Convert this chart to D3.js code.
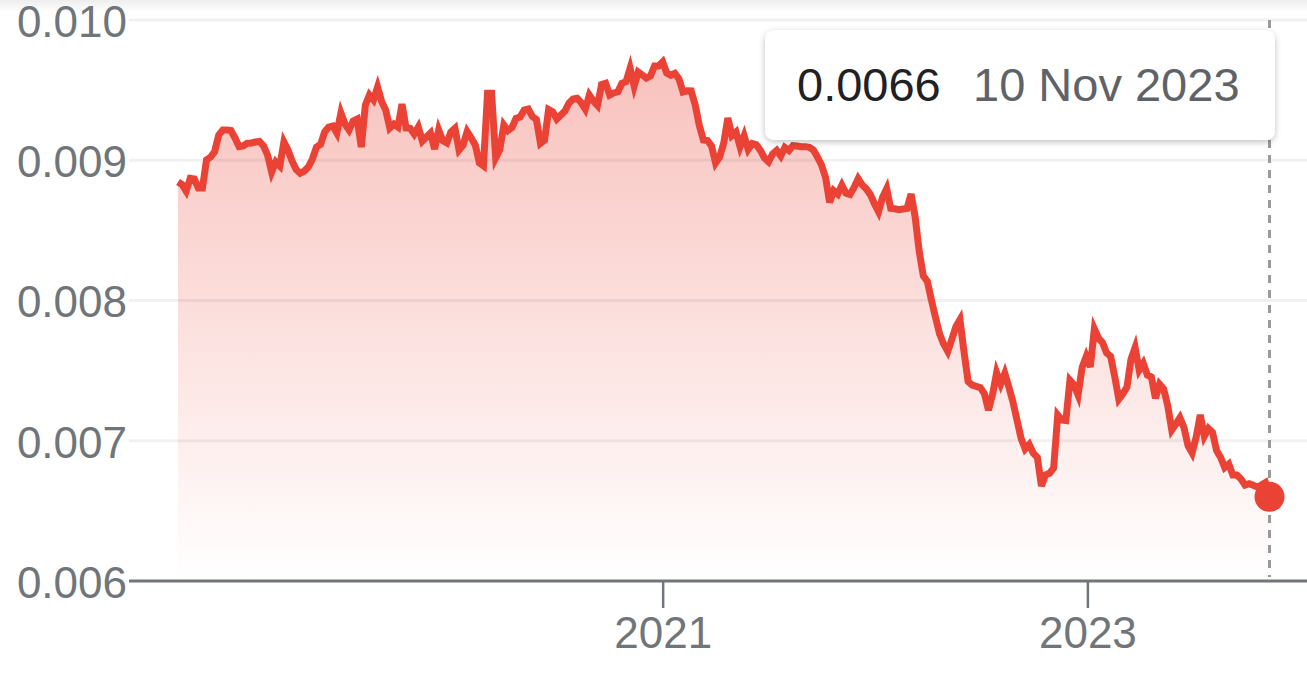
<!DOCTYPE html>
<html>
<head>
<meta charset="utf-8">
<script src="https://cdn.jsdelivr.net/npm/d3@7"></script>
<style>
  body { margin: 0; background: #fff; overflow: hidden; }
  text { font-family: "Liberation Sans", Arial, sans-serif; }
</style>
</head>
<body>
<div id="chart"></div>
<script>
var svgWidth = 1307;
var svgHeight = 677;

// weekly closes, last one on 10 Nov 2023
var lastDate = "2023-11-10";
var values = [
  0.008845, 0.008827, 0.008781, 0.008870, 0.008866, 0.008802, 0.008802, 0.009002, 0.009023, 0.009061,
  0.009180, 0.009216, 0.009216, 0.009212, 0.009159, 0.009097, 0.009102, 0.009121, 0.009123, 0.009130,
  0.009134, 0.009102, 0.009037, 0.008916, 0.008988, 0.008959, 0.009130, 0.009073, 0.008995, 0.008934,
  0.008907, 0.008923, 0.008952, 0.009009, 0.009094, 0.009112, 0.009201, 0.009237, 0.009244, 0.009194,
  0.009337, 0.009258, 0.009216, 0.009280, 0.009294, 0.009094, 0.009394, 0.009465, 0.009430, 0.009522,
  0.009419, 0.009358, 0.009230, 0.009258, 0.009237, 0.009401, 0.009230, 0.009228, 0.009187, 0.009237,
  0.009137, 0.009166, 0.009194, 0.009080, 0.009216, 0.009140, 0.009123, 0.009201, 0.009228, 0.009073,
  0.009109, 0.009205, 0.009159, 0.009109, 0.008980, 0.008959, 0.009477, 0.009477, 0.009016, 0.009073,
  0.009251, 0.009212, 0.009234, 0.009299, 0.009308, 0.009358, 0.009365, 0.009312, 0.009290, 0.009121,
  0.009144, 0.009362, 0.009346, 0.009294, 0.009323, 0.009351, 0.009408, 0.009437, 0.009442, 0.009410,
  0.009365, 0.009465, 0.009422, 0.009390, 0.009540, 0.009549, 0.009465, 0.009480, 0.009488, 0.009549,
  0.009560, 0.009656, 0.009529, 0.009629, 0.009608, 0.009586, 0.009601, 0.009672, 0.009672, 0.009701,
  0.009622, 0.009606, 0.009619, 0.009581, 0.009487, 0.009495, 0.009494, 0.009394, 0.009248, 0.009144,
  0.009141, 0.009102, 0.008980, 0.009023, 0.009123, 0.009301, 0.009176, 0.009201, 0.009097, 0.009175,
  0.009077, 0.009119, 0.009111, 0.009070, 0.009016, 0.008989, 0.009045, 0.009070, 0.009030, 0.009091,
  0.009070, 0.009104, 0.009102, 0.009097, 0.009097, 0.009092, 0.009073, 0.009023, 0.008966, 0.008877,
  0.008699, 0.008783, 0.008759, 0.008822, 0.008765, 0.008756, 0.008806, 0.008868, 0.008824, 0.008796,
  0.008755, 0.008690, 0.008633, 0.008737, 0.008798, 0.008657, 0.008654, 0.008647, 0.008652, 0.008657,
  0.008759, 0.008595, 0.008349, 0.008175, 0.008135, 0.008001, 0.007879, 0.007761, 0.007690, 0.007637,
  0.007722, 0.007813, 0.007863, 0.007633, 0.007423, 0.007396, 0.007388, 0.007378, 0.007336, 0.007219,
  0.007330, 0.007485, 0.007405, 0.007481, 0.007383, 0.007278, 0.007148, 0.007017, 0.006941, 0.006973,
  0.006911, 0.006882, 0.006677, 0.006757, 0.006768, 0.006806, 0.007184, 0.007148, 0.007144, 0.007431,
  0.007398, 0.007326, 0.007524, 0.007602, 0.007526, 0.007797, 0.007733, 0.007700, 0.007626, 0.007602,
  0.007457, 0.007296, 0.007335, 0.007383, 0.007583, 0.007665, 0.007504, 0.007552, 0.007469, 0.007454,
  0.007303, 0.007403, 0.007369, 0.007252, 0.007077, 0.007119, 0.007164, 0.007094, 0.006965, 0.006913,
  0.007027, 0.007185, 0.007032, 0.007088, 0.007060, 0.006930, 0.006881, 0.006810, 0.006834, 0.006756,
  0.006756, 0.006727, 0.006684, 0.006694, 0.006682, 0.006670, 0.006684, 0.006702, 0.006600
];

var yTicks = [0.006, 0.007, 0.008, 0.009, 0.010];
var xTickYears = [2021, 2023];
var tipValue = "0.0066";
var tipDate = "10 Nov 2023";

var red = "#ea4335";
var grey = "#70757a";

var parseDate = d3.timeParse("%Y-%m-%d");
var end = parseDate(lastDate);
var data = values.map(function(v, i) {
  return { date: d3.timeDay.offset(end, -7 * (values.length - 1 - i)), value: v };
});

var svg = d3.select("#chart")
  .append("svg")
  .attr("width", svgWidth)
  .attr("height", svgHeight);

var defs = svg.append("defs");

var fillGrad = defs.append("linearGradient")
  .attr("id", "fillGrad")
  .attr("gradientUnits", "userSpaceOnUse")
  .attr("x1", 0).attr("y1", 60)
  .attr("x2", 0).attr("y2", 581);
fillGrad.append("stop").attr("offset", "0%").attr("stop-color", red).attr("stop-opacity", 0.33);
fillGrad.append("stop").attr("offset", "100%").attr("stop-color", red).attr("stop-opacity", 0);

var topShade = defs.append("linearGradient")
  .attr("id", "topShade")
  .attr("x1", 0).attr("y1", 0).attr("x2", 0).attr("y2", 1);
topShade.append("stop").attr("offset", "0%").attr("stop-color", "#000").attr("stop-opacity", 0.07);
topShade.append("stop").attr("offset", "100%").attr("stop-color", "#000").attr("stop-opacity", 0);

var shadow = defs.append("filter")
  .attr("id", "shadow")
  .attr("x", "-10%").attr("y", "-20%")
  .attr("width", "120%").attr("height", "150%");
shadow.append("feDropShadow")
  .attr("dx", 0).attr("dy", 2)
  .attr("stdDeviation", 3)
  .attr("flood-color", "#000")
  .attr("flood-opacity", 0.25);

// scales
var x = d3.scaleTime()
  .domain([data[0].date, end])
  .range([178, 1269.5]);

var y = d3.scaleLinear()
  .domain([0.006, 0.010])
  .range([581, 20]);

var plotLeft = 129;
var plotRight = svgWidth;

// faint band along the top edge
svg.append("rect")
  .attr("x", 0).attr("y", 0)
  .attr("width", svgWidth).attr("height", 12)
  .attr("fill", "url(#topShade)");

// area under the line
var area = d3.area()
  .x(d => x(d.date))
  .y0(y(0.006))
  .y1(d => y(d.value));

svg.append("path")
  .datum(data)
  .attr("d", area)
  .attr("fill", "url(#fillGrad)");

// gridlines
svg.append("g")
  .selectAll("line")
  .data(yTicks.slice(1))
  .enter()
  .append("line")
  .attr("x1", plotLeft)
  .attr("x2", plotRight)
  .attr("y1", d => y(d))
  .attr("y2", d => y(d))
  .attr("stroke", "#000")
  .attr("stroke-opacity", 0.055)
  .attr("stroke-width", 3);

// y labels
svg.append("g")
  .selectAll("text")
  .data(yTicks)
  .enter()
  .append("text")
  .attr("x", 127)
  .attr("y", d => y(d) + 1)
  .attr("dy", "0.36em")
  .attr("text-anchor", "end")
  .attr("font-size", "44px")
  .attr("fill", grey)
  .text(d => d3.format(".3f")(d));

// x axis
var xTicks = xTickYears.map(d => new Date(d, 0, 1));
var bottomAxis = d3.axisBottom(x)
  .tickValues(xTicks)
  .tickFormat(d3.timeFormat("%Y"))
  .tickSize(27)
  .tickSizeOuter(0)
  .tickPadding(9);

var xAxis = svg.append("g")
  .attr("transform", `translate(0, ${y(0.006)})`)
  .call(bottomAxis);

xAxis.select(".domain").remove();
xAxis.selectAll(".tick line")
  .attr("stroke", grey)
  .attr("stroke-width", 2.5);
xAxis.selectAll(".tick text")
  .attr("fill", grey)
  .attr("font-size", "44px")
  .attr("font-family", "Liberation Sans, Arial, sans-serif");

svg.append("line")
  .attr("x1", plotLeft)
  .attr("x2", plotRight)
  .attr("y1", y(0.006))
  .attr("y2", y(0.006))
  .attr("stroke", grey)
  .attr("stroke-width", 3);

// price line
var line = d3.line()
  .x(d => x(d.date))
  .y(d => y(d.value));

svg.append("path")
  .datum(data)
  .attr("d", line)
  .attr("fill", "none")
  .attr("stroke", red)
  .attr("stroke-width", 7);

// hover guide
var last = data[data.length - 1];
svg.append("line")
  .attr("x1", x(last.date))
  .attr("x2", x(last.date))
  .attr("y1", y(0.010))
  .attr("y2", y(0.006) - 4)
  .attr("stroke", "#9a9a9a")
  .attr("stroke-width", 3)
  .attr("stroke-dasharray", "8,7");

svg.append("circle")
  .attr("cx", x(last.date))
  .attr("cy", y(last.value))
  .attr("r", 15)
  .attr("fill", red);

// tooltip
var tip = svg.append("g")
  .attr("transform", "translate(765, 30)");

tip.append("rect")
  .attr("width", 510)
  .attr("height", 110)
  .attr("rx", 9)
  .attr("fill", "#fff")
  .attr("filter", "url(#shadow)");

tip.append("text")
  .attr("x", 32)
  .attr("y", 71)
  .attr("font-size", "47px")
  .attr("fill", "#202124")
  .text(tipValue);

tip.append("text")
  .attr("x", 208)
  .attr("y", 71)
  .attr("font-size", "47px")
  .attr("fill", "#5f6368")
  .text(tipDate);
</script>
</body>
</html>
